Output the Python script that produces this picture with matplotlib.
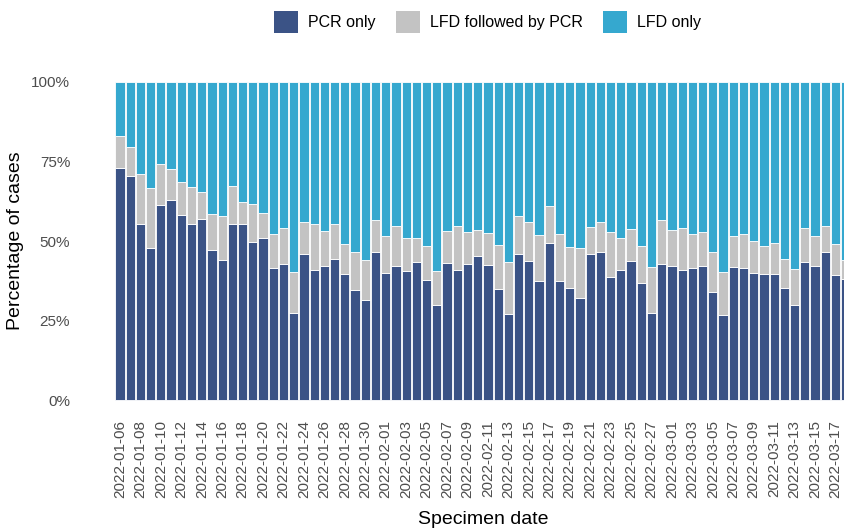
import numpy as np
import pandas as pd
import matplotlib
matplotlib.use("Agg")
import matplotlib.pyplot as plt
from matplotlib.patches import Patch

plt.rcParams['font.family'] = ['Liberation Sans', 'DejaVu Sans']

# daily specimen dates (categories)
dates = pd.date_range('2022-01-06', '2022-03-18', freq='D').strftime('%Y-%m-%d').tolist()

# percentage of cases per day
pcr_only = [72.9, 70.4, 55.2, 47.7, 61.2, 62.8, 58.2, 55.2, 56.9, 47.1, 43.9, 55.2,
            55.5, 49.6, 51.0, 41.6, 42.9, 27.5, 45.8, 40.9, 42.2, 44.2, 39.7, 34.6,
            31.4, 46.4, 39.9, 42.0, 40.7, 43.5, 37.8, 29.9, 43.2, 41.0, 42.7, 45.4,
            42.5, 34.9, 27.1, 46.0, 43.7, 37.4, 49.4, 37.5, 35.1, 32.2, 45.8, 46.6,
            38.7, 41.0, 43.7, 36.8, 27.4, 42.7, 42.0, 40.8, 41.4, 42.2, 34.1, 26.9,
            41.8, 41.4, 40.1, 39.7, 39.5, 35.1, 29.9, 43.5, 42.2, 46.6, 39.3, 38.1]
lfd_then_pcr = [10.1, 9.1, 15.8, 18.9, 12.9, 9.7, 10.2, 11.8, 8.6, 11.3, 14.1, 12.0,
                6.9, 11.9, 7.9, 10.5, 11.1, 12.8, 10.3, 14.3, 10.9, 11.3, 9.4, 11.9,
                12.5, 10.1, 11.6, 12.8, 10.1, 7.3, 10.5, 10.8, 9.9, 13.8, 10.0, 8.0,
                10.0, 13.8, 16.2, 11.8, 12.2, 14.5, 11.5, 14.8, 13.0, 15.7, 8.6, 9.3,
                14.0, 10.0, 10.1, 11.7, 14.4, 14.0, 11.6, 13.2, 10.7, 10.7, 12.3, 13.5,
                9.7, 10.9, 9.9, 8.8, 9.9, 9.4, 11.3, 10.7, 9.3, 8.0, 9.7, 5.8]

series_labels = ['PCR only', 'LFD followed by PCR', 'LFD only']
colors = ['#3b5386', '#c3c3c3', '#35a8cf']

pcr = np.array(pcr_only) / 100
mid = np.array(lfd_then_pcr) / 100
lfd = 1 - pcr - mid
x = np.arange(len(dates))

fig = plt.figure(figsize=(8.44, 5.31), dpi=100)
# panel runs past the right edge, as in the reference (date scale padding)
ax = fig.add_axes([0.0931, 0.2166, 0.958, 0.659])

ax.bar(x, pcr, width=0.9, color=colors[0], edgecolor='white', linewidth=0.6)
ax.bar(x, mid, bottom=pcr, width=0.9, color=colors[1], edgecolor='white', linewidth=0.6)
ax.bar(x, lfd, bottom=pcr + mid, width=0.9, color=colors[2], edgecolor='white', linewidth=0.6)

ax.set_xlim(-4.05, 75.05)
ax.set_ylim(-0.05, 1.05)
ax.set_yticks([0, 0.25, 0.5, 0.75, 1.0])
ax.set_yticklabels(['0%', '25%', '50%', '75%', '100%'])
ax.set_xticks(x[::2])
ax.set_xticklabels(dates[::2], rotation=90)
ax.tick_params(axis='both', length=0, colors='#4d4d4d', labelsize=11)
ax.tick_params(axis='x', pad=3)
ax.tick_params(axis='y', pad=6)

for s in ax.spines.values():
    s.set_visible(False)

ax.set_xlabel('Specimen date', fontsize=14, labelpad=9)
ax.set_ylabel('Percentage of cases', fontsize=14)
ax.yaxis.set_label_coords(-0.0676, 0.5)

handles = [Patch(facecolor=c, edgecolor='none') for c in colors]
ax.legend(handles, series_labels, loc='center', bbox_to_anchor=(0.506, 1.126),
          ncol=3, frameon=False, fontsize=11.5, handlelength=1.5, handleheight=1.8,
          handletextpad=0.6, columnspacing=1.3)

plt.savefig('out.png', dpi=100)
